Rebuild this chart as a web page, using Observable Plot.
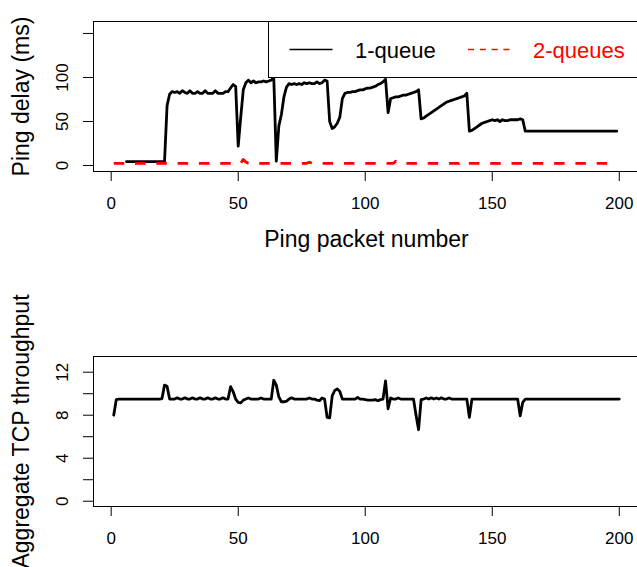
<!DOCTYPE html>
<html>
<head>
<meta charset="utf-8">
<script src="https://cdn.jsdelivr.net/npm/d3@7"></script>
<script src="https://cdn.jsdelivr.net/npm/@observablehq/plot@0.6"></script>
<style>
  html, body { margin: 0; padding: 0; background: white; overflow: hidden; }
  #chart { width: 637px; }
  #chart svg { display: block; }
</style>
</head>
<body>
<div id="chart"></div>
<script>
// ---------- data ----------
const packets = d3.range(1, 201);

// 1-queue ping delay (ms), packets 1..200 (null = no sample drawn)
const delay1q = [
  null, null, null, null, null,
  4.5, 4.5, 4.5, 4.5, 4.5, 4.5, 4.5, 4.5, 4.5, 4.5, 4.5, 4.5, 4.5, 4.5, 4.5, 4.5,
  68, 81, 84, 83, 84, 82, 85, 83, 82, 85, 82, 82, 84, 82, 82, 85, 82, 82, 82, 85,
  82, 82, 82, 84, 84, 88, 92, 90, 22, 55, 86, 94, 97, 94, 96, 94, 95, 95, 96, 95,
  96, 97, 100, 5, 45, 58, 78, 89, 93, 92, 93, 92, 93, 92, 94, 93, 94, 93, 93, 95,
  93, 94, 97, 96, 50, 42, 44, 48, 55, 76, 82, 83, 83, 84, 84, 85, 86, 86, 87, 88,
  88, 89, 90, 92, 93, 95, 98, 60, 76, 77, 78, 78, 79, 80, 80, 81, 82, 83, 84, 86,
  53, 54, 56, 58, 60, 62, 64, 66, 68, 70, 72, 73, 74, 75, 76, 77, 78, 79, 82, 39,
  40, 42, 44, 46, 48, 49, 50, 51, 52, 51, 52, 50, 52, 51, 51, 52, 52, 52, 52, 53,
  52, 39, 39, 39, 39, 39, 39, 39, 39, 39, 39, 39, 39, 39, 39, 39, 39, 39, 39, 39,
  39, 39, 39, 39, 39, 39, 39, 39, 39, 39, 39, 39, 39, 39, 39, 39, 39, 39
];

// 2-queues ping delay (ms), packets 1..200
const delay2q = [
  2.5, 2.5, 2.5, 2.5, 2.5, 2.5, 2.5, 2.5, 2.5, 2.5, 2.5, 2.5, 2.5, 2.5, 2.5, 2.5, 2.5, 2.5, 2.5, 2.5,
  2.5, 2.5, 2.5, 2.5, 2.5, 2.5, 2.5, 2.5, 2.5, 2.5, 2.5, 2.5, 2.5, 2.5, 2.5, 2.5, 2.5, 2.5, 2.5, 2.5,
  2.5, 2.5, 2.5, 2.5, 2.5, 2.5, 2.5, 2.5, 2.5, 2.5, 2.5, 7, 4, 2.5, 2.5, 2.5, 2.5, 2.5, 2.5, 2.5,
  2.5, 2.5, 2.5, 2.5, 2.5, 2.5, 2.5, 2.5, 2.5, 2.5, 2.5, 2.5, 2.5, 2.5, 2.5, 2.5, 2.5, 3.8, 2.5, 2.5,
  2.5, 2.5, 2.5, 2.5, 2.5, 2.5, 2.5, 2.5, 2.5, 2.5, 2.5, 2.5, 2.5, 2.5, 2.5, 2.5, 2.5, 2.5, 2.5, 2.5,
  2.5, 2.5, 2.5, 2.5, 2.5, 2.5, 2.5, 2.5, 2.5, 2.5, 2.5, 4.8, 2.5, 2.5, 2.5, 2.5, 2.5, 2.5, 2.5, 2.5,
  2.5, 2.5, 2.5, 2.5, 2.5, 2.5, 2.5, 2.5, 2.5, 2.5, 2.5, 2.5, 2.5, 2.5, 2.5, 2.5, 2.5, 4.8, 2.5, 2.5,
  2.5, 2.5, 2.5, 2.5, 2.5, 2.5, 2.5, 2.5, 2.5, 2.5, 2.5, 2.5, 2.5, 2.5, 2.5, 2.5, 2.5, 2.5, 2.5, 2.5,
  2.5, 2.5, 2.5, 2.5, 2.5, 2.5, 2.5, 2.5, 2.5, 2.5, 2.5, 2.5, 2.5, 2.5, 2.5, 2.5, 2.5, 2.5, 2.5, 2.5,
  2.5, 2.5, 2.5, 2.5, 2.5, 2.5, 2.5, 2.5, 2.5, 2.5, 2.5, 2.5, 2.5, 2.5, 2.5, 2.5, 2.5, 2.5, 2.5, null
];

// Aggregate TCP throughput, packets 1..200
const throughput = [
  8.0, 9.45, 9.5, 9.5, 9.5, 9.5, 9.5, 9.5, 9.5, 9.5, 9.5, 9.5, 9.5, 9.5, 9.5, 9.5, 9.5, 9.5, 9.5, 9.55,
  10.8, 10.7, 9.5, 9.5, 9.5, 9.62, 9.5, 9.5, 9.62, 9.5, 9.5, 9.62, 9.5, 9.5, 9.62, 9.5, 9.5, 9.62, 9.5, 9.5,
  9.62, 9.5, 9.5, 9.62, 9.5, 9.5, 10.65, 10.2, 9.5, 9.2, 9.15, 9.4, 9.5, 9.6, 9.5, 9.5, 9.5, 9.5, 9.6, 9.5,
  9.5, 9.5, 9.5, 11.25, 10.8, 9.7, 9.25, 9.25, 9.3, 9.5, 9.62, 9.5, 9.5, 9.5, 9.5, 9.5, 9.5, 9.6, 9.5, 9.5,
  9.4, 9.35, 9.6, 9.5, 7.8, 7.75, 9.8, 10.3, 10.45, 10.2, 9.5, 9.5, 9.5, 9.5, 9.5, 9.5, 9.65, 9.5, 9.5, 9.45,
  9.4, 9.4, 9.4, 9.45, 9.35, 9.45, 9.5, 11.2, 8.6, 9.6, 9.5, 9.5, 9.6, 9.5, 9.5, 9.5, 9.5, 9.5, 9.5, 8.0,
  6.65, 9.45, 9.5, 9.6, 9.5, 9.62, 9.5, 9.6, 9.5, 9.62, 9.5, 9.5, 9.6, 9.5, 9.5, 9.5, 9.5, 9.5, 9.5, 9.5,
  7.8, 9.5, 9.5, 9.5, 9.5, 9.5, 9.5, 9.5, 9.5, 9.5, 9.5, 9.5, 9.5, 9.5, 9.5, 9.5, 9.5, 9.5, 9.5, 9.5,
  7.95, 9.2, 9.5, 9.5, 9.5, 9.5, 9.5, 9.5, 9.5, 9.5, 9.5, 9.5, 9.5, 9.5, 9.5, 9.5, 9.5, 9.5, 9.5, 9.5,
  9.5, 9.5, 9.5, 9.5, 9.5, 9.5, 9.5, 9.5, 9.5, 9.5, 9.5, 9.5, 9.5, 9.5, 9.5, 9.5, 9.5, 9.5, 9.5, 9.5
];

const xTicks = [0, 50, 100, 150, 200];
const delayTicks = [0, 50, 100, 150];
const delayTickLabels = ["0", "50", "100", ""];
const tputTicks = [0, 2, 4, 6, 8, 10, 12];
const tputTickLabels = ["0", "", "4", "", "8", "", "12"];
const seriesNames = ["1-queue", "2-queues"];
const seriesColors = ["black", "#ff0000"];

// ---------- drawing ----------
const font = "'Liberation Sans', Arial, Helvetica, sans-serif";
const tickFont = 17;
const titleFont = 23;

const topChart = Plot.plot({
  width: 637, height: 283,
  marginLeft: 93, marginRight: -2, marginTop: 21, marginBottom: 112,
  style: {fontFamily: font, background: "white", color: "black"},
  x: {domain: [-6.96, 207.96], axis: null},
  y: {domain: [-6.8, 163.6], axis: null},
  marks: [
    Plot.axisX({ticks: xTicks, tickSize: 10, tickPadding: 15, fontSize: tickFont, label: null, tickFormat: d => String(d)}),
    Plot.axisY({ticks: delayTicks, tickSize: 10, tickFormat: () => "", label: null}),
    Plot.text(delayTicks, {y: d => d, text: (d, i) => delayTickLabels[i], frameAnchor: "left", dx: -30.6, rotate: -90, fontSize: tickFont, textAnchor: "middle", lineAnchor: "middle", fill: "black"}),
    Plot.line(packets, {x: packets, y: delay1q, stroke: seriesColors[0], strokeWidth: 2.8, strokeLinejoin: "round", strokeLinecap: "round"}),
    Plot.line(packets, {x: packets, y: delay2q, stroke: seriesColors[1], strokeWidth: 2.8, strokeDasharray: "10.5,10.8", strokeLinecap: "butt"}),
    Plot.frame({stroke: "black", strokeWidth: 1}),
    Plot.text(["Ping packet number"], {frameAnchor: "bottom", dy: 68, fontSize: titleFont, textAnchor: "middle", lineAnchor: "middle", fill: "black"}),
    Plot.text(["Ping delay (ms)"], {frameAnchor: "left", dx: -71.4, rotate: -90, fontSize: titleFont, textAnchor: "middle", lineAnchor: "middle", fill: "black"})
  ]
});

// legend (R style, top right)
{
  const svg = d3.select(topChart);
  const g = svg.append("g").attr("font-family", font).attr("text-anchor", "start");
  g.append("rect").attr("x", 268.5).attr("y", 21.5).attr("width", 420).attr("height", 56)
    .attr("fill", "white").attr("stroke", "black").attr("stroke-width", 1);
  g.append("line").attr("x1", 289.5).attr("x2", 332.5).attr("y1", 49.5).attr("y2", 49.5)
    .attr("stroke", seriesColors[0]).attr("stroke-width", 1.3);
  g.append("text").attr("x", 355).attr("y", 57.5).attr("font-size", 22).attr("text-anchor", "start").attr("fill", seriesColors[0]).text(seriesNames[0]);
  g.append("line").attr("x1", 468).attr("x2", 509.5).attr("y1", 49.5).attr("y2", 49.5)
    .attr("stroke", seriesColors[1]).attr("stroke-width", 1.6).attr("stroke-dasharray", "6,5.8");
  g.append("text").attr("x", 533).attr("y", 57.5).attr("font-size", 22).attr("text-anchor", "start").attr("fill", seriesColors[1]).text(seriesNames[1]);
}

const bottomChart = Plot.plot({
  width: 637, height: 284,
  marginLeft: 93, marginRight: -2, marginTop: 73, marginBottom: 61,
  style: {fontFamily: font, background: "white", color: "black"},
  x: {domain: [-6.96, 207.96], axis: null},
  y: {domain: [-0.49, 13.46], axis: null},
  marks: [
    Plot.axisX({ticks: xTicks, tickSize: 10, tickPadding: 15, fontSize: tickFont, label: null, tickFormat: d => String(d)}),
    Plot.axisY({ticks: tputTicks, tickSize: 10, tickFormat: () => "", label: null}),
    Plot.text(tputTicks, {y: d => d, text: (d, i) => tputTickLabels[i], frameAnchor: "left", dx: -30.6, rotate: -90, fontSize: tickFont, textAnchor: "middle", lineAnchor: "middle", fill: "black"}),
    Plot.line(packets, {x: packets, y: throughput, stroke: "black", strokeWidth: 2.8, strokeLinejoin: "round", strokeLinecap: "round"}),
    Plot.frame({stroke: "black", strokeWidth: 1}),
    Plot.text(["Aggregate TCP throughput"], {frameAnchor: "left", dx: -71.4, rotate: -90, fontSize: titleFont, textAnchor: "middle", lineAnchor: "middle", fill: "black"})
  ]
});

const chart = document.getElementById("chart");
chart.appendChild(topChart);
chart.appendChild(bottomChart);
</script>
</body>
</html>
